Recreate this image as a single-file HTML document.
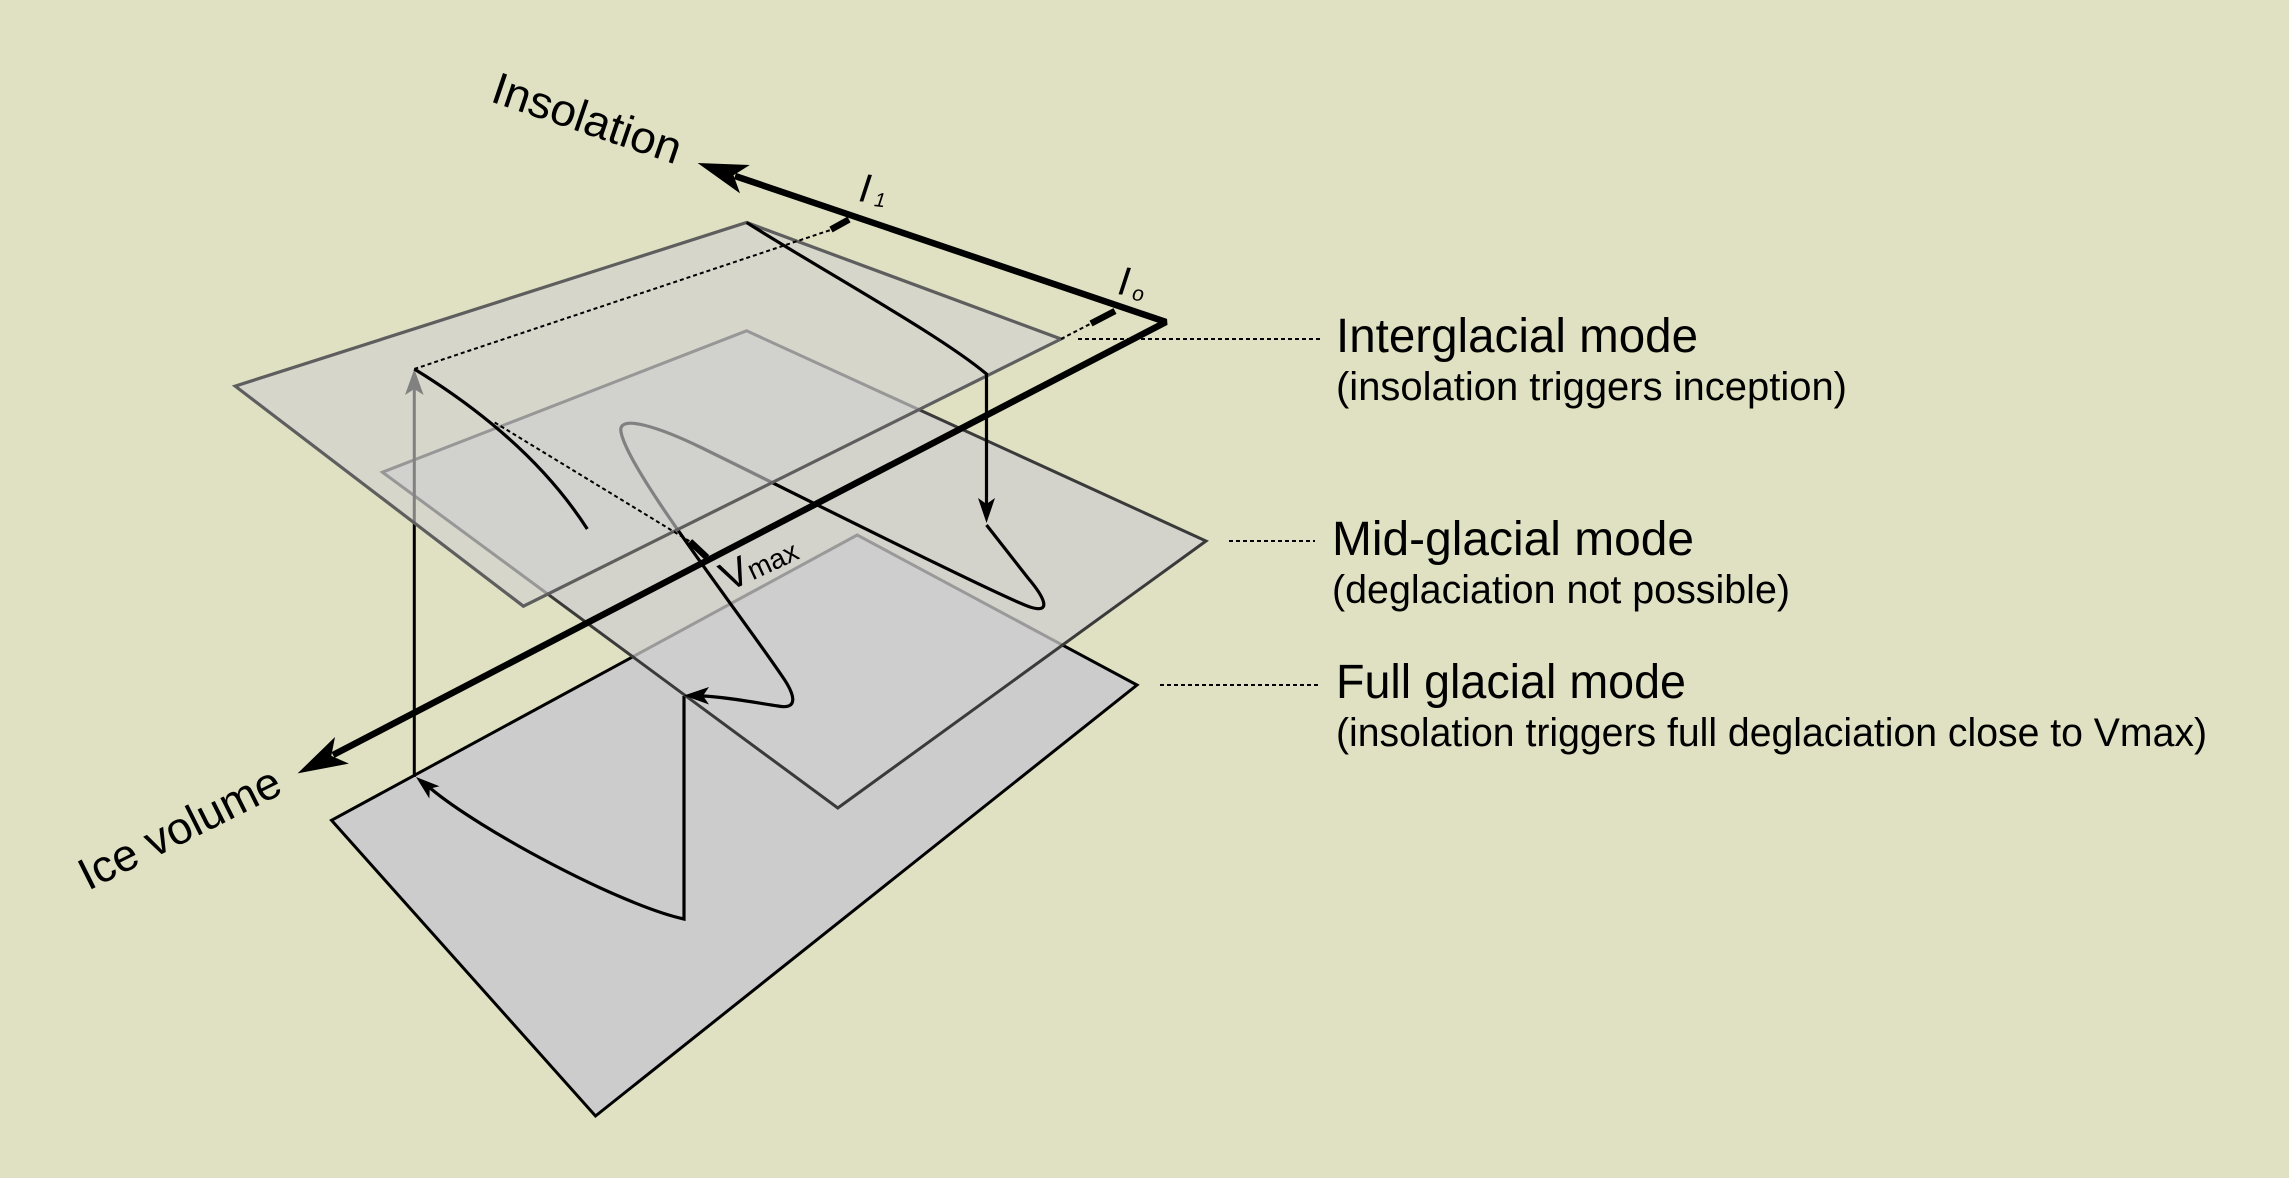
<!DOCTYPE html>
<html>
<head>
<meta charset="utf-8">
<style>
  html, body { margin: 0; padding: 0; background: #e0e0c2; }
  svg { display: block; }
  text { font-family: "Liberation Sans", "DejaVu Sans", sans-serif; fill: #000; }
</style>
</head>
<body>
<svg width="2289" height="1178" viewBox="0 0 2289 1178" xmlns="http://www.w3.org/2000/svg">
  <rect x="0" y="0" width="2289" height="1178" fill="#e0e0c2"/>

  <!-- Bottom plane (full glacial) -->
  <polygon points="331.5,820.3 857.2,535 1137,685 595.5,1116" fill="#cccccc" stroke="#000" stroke-width="3" stroke-linejoin="miter"/>
  <!-- Bottom plane curves -->
  <path d="M684,696 L684,919 C620,905 480,830 430,788" fill="none" stroke="#000" stroke-width="3.2"/>
  <polygon points="416,777 439.5,786.3 429.8,788.6 429.3,798.5" fill="#000"/>

  <!-- Middle plane (mid-glacial) -->
  <polygon points="382.5,472.2 746.6,330.8 1206,541 837.8,808" fill="#cfcfcf" fill-opacity="0.74" stroke="#3a3a3a" stroke-width="3"/>
  <!-- Middle plane curve -->
  <path d="M986.5,525 L1028,578 C1045,598 1052,614 1030,607 C1000,597 760,476 700,447 C665,430 617,412 621,432 C628,470 730,600 782,676 C796,696 798,710 778,706 C752,702 725,697 703,696"
        fill="none" stroke="#000" stroke-width="3.2"/>
  <polygon points="684,695.5 709,687 703,695.8 709,704.5" fill="#000"/>

  <!-- Left vertical line with arrow (partly under top plane) -->
  <line x1="414.3" y1="777" x2="414.3" y2="389" stroke="#000" stroke-width="3"/>
  <polygon points="414.3,369 405,395 414.3,389 423.6,395" fill="#000"/>

  <!-- Top plane (interglacial) -->
  <polygon points="235.2,386.1 746.6,222.5 1061,339 523.4,606.2" fill="#d0d0d0" fill-opacity="0.62" stroke="#5e5e5e" stroke-width="3.2"/>

  <!-- Top plane curves -->
  <path d="M414.3,369 Q530,440 587.3,529" fill="none" stroke="#000" stroke-width="3.2"/>
  <path d="M746.6,222.5 C830,275 940,335 986.5,374 L986.5,505" fill="none" stroke="#000" stroke-width="3.2"/>
  <polygon points="986.5,523 978,498 986.5,504 995,498" fill="#000"/>

  <!-- Dotted projection lines -->
  <g stroke="#000" stroke-width="2" stroke-dasharray="4 3" fill="none">
    <line x1="414.3" y1="369" x2="832" y2="229.5"/>
    <line x1="494.7" y1="422.5" x2="690" y2="541.5"/>
    <line x1="1061" y1="339" x2="1091" y2="323.5"/>
    <line x1="1078" y1="339" x2="1320" y2="339"/>
    <line x1="1229" y1="541" x2="1315" y2="541"/>
    <line x1="1160" y1="685" x2="1320" y2="685"/>
  </g>

  <!-- Ticks -->
  <g stroke="#000" stroke-width="6.5" stroke-linecap="butt">
    <line x1="831" y1="229.5" x2="849" y2="219.5"/>
    <line x1="1091" y1="323.5" x2="1115" y2="311"/>
    <line x1="690" y1="541.5" x2="707" y2="557.5"/>
  </g>

  <!-- Axes -->
  <path d="M735,176 L1166,322 L333,755" fill="none" stroke="#000" stroke-width="6.5" stroke-linejoin="bevel"/>
  <polygon points="697.6,163 749.75,165 733.5,175.3 740.05,193.4" fill="#000"/>
  <polygon points="297.6,773.4 348.9,763.6 331.3,755.9 335,737" fill="#000"/>

  <!-- Axis labels -->
  <text x="489" y="101" font-size="45" textLength="197" lengthAdjust="spacingAndGlyphs" transform="rotate(18.8 489 101)">Insolation</text>
  <text x="88" y="891" font-size="45" textLength="220" lengthAdjust="spacingAndGlyphs" transform="rotate(-26.6 88 891)">Ice volume</text>

  <!-- I1, I0, Vmax -->
  <text x="858" y="201" font-size="40" font-style="italic" transform="rotate(7 858 201)">I<tspan font-size="20" dx="5" dy="3">1</tspan></text>
  <text x="1117" y="294" font-size="40" font-style="italic" transform="rotate(7 1117 294)">I<tspan font-size="21" dx="4" dy="4">o</tspan></text>
  <text x="728" y="592" font-size="41" transform="rotate(-25 728 592)">V<tspan font-size="28">max</tspan></text>

  <!-- Mode labels -->
  <text x="1336" y="352" font-size="48" textLength="362" lengthAdjust="spacingAndGlyphs">Interglacial mode</text>
  <text x="1336" y="400" font-size="40" textLength="511" lengthAdjust="spacingAndGlyphs">(insolation triggers inception)</text>

  <text x="1332" y="555" font-size="48" textLength="362" lengthAdjust="spacingAndGlyphs">Mid-glacial mode</text>
  <text x="1332" y="603" font-size="40" textLength="458" lengthAdjust="spacingAndGlyphs">(deglaciation not possible)</text>

  <text x="1336" y="698" font-size="48" textLength="350" lengthAdjust="spacingAndGlyphs">Full glacial mode</text>
  <text x="1336" y="746" font-size="40" textLength="871" lengthAdjust="spacingAndGlyphs">(insolation triggers full deglaciation close to Vmax)</text>
</svg>
</body>
</html>
